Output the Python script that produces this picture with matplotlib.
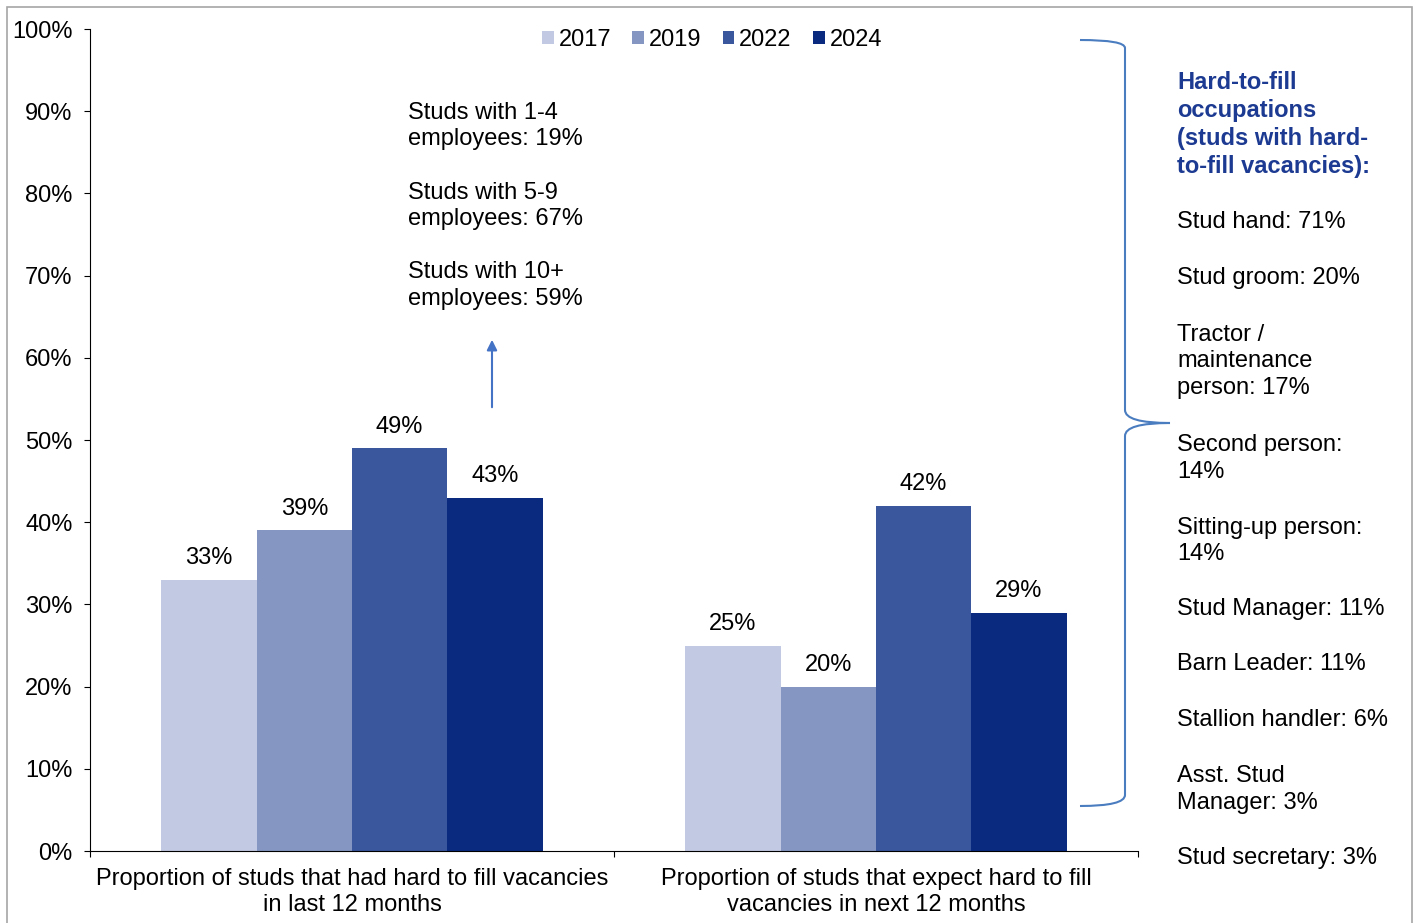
import matplotlib.pyplot as plt
import numpy as np
from matplotlib.path import Path
from matplotlib.patches import PathPatch, Rectangle, FancyArrowPatch

plt.rcParams['font.family'] = ['Liberation Sans', 'DejaVu Sans']

categories = ["Proportion of studs that had hard to fill vacancies\nin last 12 months",
              "Proportion of studs that expect hard to fill\nvacancies in next 12 months"]
years = ["2017", "2019", "2022", "2024"]
values = {
    "2017": [33, 25],
    "2019": [39, 20],
    "2022": [49, 42],
    "2024": [43, 29],
}
colors = ["#C2C9E2", "#8496C1", "#3A569C", "#0A2A80"]

size_notes = ["Studs with 1-4\nemployees: 19%",
              "Studs with 5-9\nemployees: 67%",
              "Studs with 10+\nemployees: 59%"]

occ_title = "Hard-to-fill\noccupations\n(studs with hard-\nto-fill vacancies):"
occupations = ["Stud hand: 71%", "Stud groom: 20%", "Tractor /\nmaintenance\nperson: 17%",
               "Second person:\n14%", "Sitting-up person:\n14%", "Stud Manager: 11%",
               "Barn Leader: 11%", "Stallion handler: 6%", "Asst. Stud\nManager: 3%",
               "Stud secretary: 3%"]
occ_y = [220, 276, 331, 442, 525, 607, 662, 718, 773, 856]

FS = 17
LS = 1.27      # line spacing
LINE_PX = 27.5
W, H = 1418, 923
fig = plt.figure(figsize=(W / 100, H / 100), dpi=100)
ax = fig.add_axes([90 / W, 1 - 851 / H, (1138 - 90) / W, (851 - 29) / H])


def fx(px):
    return px / W


def fy(py):
    return 1 - py / H


def put(px, py, s, **kw):
    # py is the centre of the first line; baseline alignment anchors the last line
    n = s.count("\n")
    fig.text(fx(px), fy(py + 8 + n * LINE_PX), s, fontsize=FS, va="baseline",
             ha="left", linespacing=LS, **kw)


x = np.arange(len(categories))
bw = 0.182
for i, (yr, c) in enumerate(zip(years, colors)):
    pos = x + (i - 1.5) * bw
    ax.bar(pos, values[yr], width=bw, color=c, label=yr)
    for xb, v in zip(pos, values[yr]):
        ax.text(xb, v + 1.3, f"{v}%", ha="center", va="bottom", fontsize=FS)

ax.set_xlim(-0.5, 1.5)
ax.set_ylim(0, 100)
ax.set_yticks(np.arange(0, 101, 10))
ax.set_yticklabels([f"{t}%" for t in range(0, 101, 10)], fontsize=FS)
ax.set_xticks([-0.5, 0.5, 1.5], minor=False)
ax.set_xticklabels([])
ax.set_xticks(x, minor=True)
ax.set_xticklabels(categories, minor=True, fontsize=FS, linespacing=LS)
ax.tick_params(axis="x", which="minor", length=0, pad=12)
ax.tick_params(axis="x", which="major", length=4.5, direction="out")
ax.tick_params(axis="y", length=4.5, direction="out", pad=8)
for s in ["top", "right"]:
    ax.spines[s].set_visible(False)

ax.legend(loc="center", bbox_to_anchor=((712 - 90) / 1048, (851 - 40) / 822), ncol=4,
          frameon=False, fontsize=FS, handlelength=0.5, handleheight=0.5,
          handletextpad=0.2, columnspacing=0.9, borderpad=0)

# employee-size notes with arrow
for note, py in zip(size_notes, [110, 190, 269]):
    put(408, py, note)
fig.add_artist(FancyArrowPatch(
    (fx(492), fy(410)), (fx(492), fy(337)), transform=fig.transFigure,
    arrowstyle="-|>,head_length=6,head_width=3", color="#4472C4", lw=1.5))

# occupations list on the right
put(1177, 82, occ_title, fontweight="bold", color="#1C3A91")
for txt, py in zip(occupations, occ_y):
    put(1177, py, txt)

# curly brace
verts = [(1080, 40), (1125, 40), (1125, 48), (1125, 48),
         (1125, 410), (1125, 423), (1170, 423),
         (1125, 423), (1125, 436),
         (1125, 795), (1125, 806), (1080, 806)]
codes = [Path.MOVETO, Path.CURVE3, Path.CURVE3, Path.LINETO,
         Path.LINETO, Path.CURVE3, Path.CURVE3,
         Path.CURVE3, Path.CURVE3,
         Path.LINETO, Path.CURVE3, Path.CURVE3]
brace = Path([(fx(a), fy(b)) for a, b in verts], codes)
fig.add_artist(PathPatch(brace, transform=fig.transFigure, fill=False,
                         edgecolor="#4A7CC0", lw=1.5))

# outer frame
fig.add_artist(Rectangle((fx(7), fy(935)), fx(1412 - 7), (935 - 7) / H,
                         transform=fig.transFigure, fill=False, edgecolor="#A6A6A6", lw=1.2))

fig.savefig("out.png", dpi=100)
